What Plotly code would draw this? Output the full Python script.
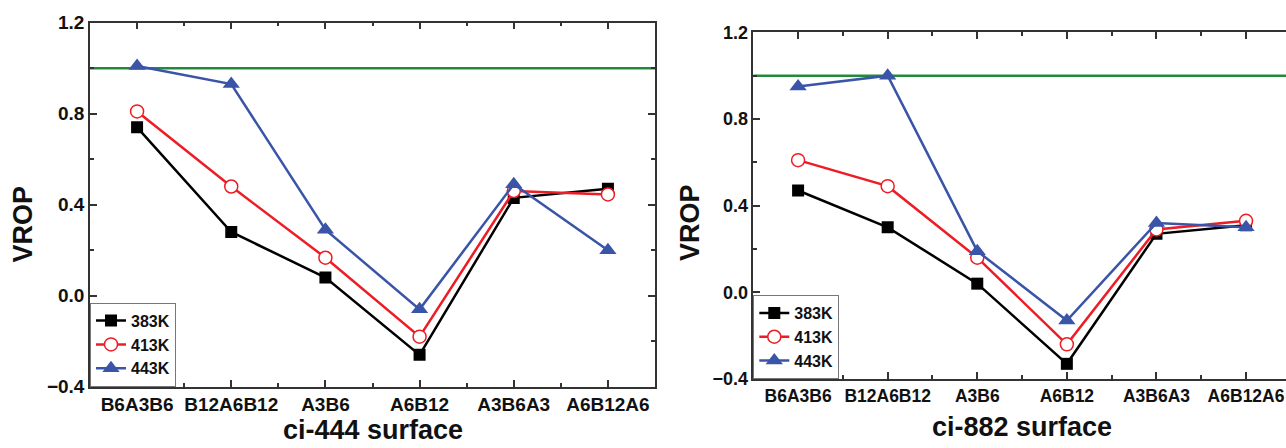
import plotly.graph_objects as go

categories = ["B6A3B6", "B12A6B12", "A3B6", "A6B12", "A3B6A3", "A6B12A6"]
series_names = ["383K", "413K", "443K"]

# ci-444 surface
left_383 = [0.74, 0.28, 0.08, -0.26, 0.43, 0.47]
left_413 = [0.81, 0.48, 0.167, -0.18, 0.46, 0.445]
left_443 = [1.01, 0.93, 0.29, -0.06, 0.49, 0.20]

# ci-882 surface
right_383 = [0.47, 0.30, 0.04, -0.33, 0.27, 0.31]
right_413 = [0.61, 0.49, 0.16, -0.24, 0.29, 0.33]
right_443 = [0.95, 1.00, 0.19, -0.13, 0.32, 0.30]

reference_level = 1.0
ref_x = [-0.5, 5.5]

colors = ["#000000", "#ee1c24", "#3a54a8"]
symbols = ["square", "circle-open", "triangle-up"]
msizes = [12, 13, 15]
green = "#23893b"

FONT = "Liberation Sans, Arial, sans-serif"
W, H = 1286, 448

fig = go.Figure()
x_idx = list(range(len(categories)))

panels = [
    ("x", "y", "legend", [left_383, left_413, left_443]),
    ("x2", "y2", "legend2", [right_383, right_413, right_443]),
]
for xa, ya, lg, data in panels:
    fig.add_trace(go.Scatter(x=ref_x, y=[reference_level] * 2, mode="lines",
                             line=dict(color=green, width=2.5), showlegend=False,
                             xaxis=xa, yaxis=ya, hoverinfo="skip"))
    for name, vals, c, s, ms in zip(series_names, data, colors, symbols, msizes):
        marker = dict(symbol=s, size=ms, color=c)
        if s == "circle-open":
            marker = dict(symbol="circle", size=ms, color="white",
                          line=dict(color=c, width=1.5))
        fig.add_trace(go.Scatter(x=x_idx, y=vals, mode="lines+markers", name=name,
                                 line=dict(color=c, width=2.5), marker=marker,
                                 xaxis=xa, yaxis=ya, legend=lg))

def px_x(p):
    return p / W

def px_y(p):
    return (H - p) / H

def tickfont(size):
    return dict(family=FONT, size=size, color="#111", weight="bold")

def xaxis(domain, rng, anchor, fs):
    return dict(domain=domain, range=rng, anchor=anchor, tickmode="array",
                tickvals=x_idx, ticktext=categories, ticks="inside", ticklen=7,
                tickwidth=1.5, tickcolor="#333", showline=True, linecolor="#333",
                linewidth=1.5, mirror="ticks", showgrid=False, zeroline=False,
                tickfont=tickfont(fs), ticklabeloverflow="allow",
                minor=dict(ticks="inside", ticklen=4, tickwidth=1.5, tickcolor="#333",
                           tick0=0.5, dtick=1, showgrid=False))

def yaxis(domain, anchor, mirror, fs):
    return dict(domain=domain, range=[-0.4, 1.2], anchor=anchor, tickmode="linear",
                tick0=-0.4, dtick=0.4, tickformat=".1f", ticks="inside", ticklen=7,
                tickwidth=1.5, tickcolor="#333", showline=True, linecolor="#333",
                linewidth=1.5, mirror=mirror, showgrid=False, zeroline=False,
                tickfont=tickfont(fs),
                minor=dict(ticks="inside", ticklen=4, tickwidth=1.5, tickcolor="#333",
                           tick0=-0.2, dtick=0.4, showgrid=False))

L_dom_x = [px_x(90), px_x(655)]
L_dom_y = [px_y(386.7), px_y(22.7)]
R_dom_x = [px_x(753.3), 1.0]
R_dom_y = [px_y(379), px_y(32.3)]

legend_font = dict(family=FONT, size=16, color="#111", weight="bold")

fig.update_layout(
    width=W, height=H, margin=dict(l=0, r=0, t=0, b=0, autoexpand=False),
    paper_bgcolor="white", plot_bgcolor="white",
    xaxis=xaxis(L_dom_x, [-0.5, 5.5], "y", 19),
    yaxis=yaxis(L_dom_y, "x", "ticks", 19),
    xaxis2=xaxis(R_dom_x, [-0.5, 5.446], "y2", 17.5),
    yaxis2=yaxis(R_dom_y, "x2", False, 18),
    legend=dict(x=L_dom_x[0], y=L_dom_y[0], xanchor="left", yanchor="bottom",
                bordercolor="#777", borderwidth=1, bgcolor="white",
                font=legend_font, tracegroupgap=0, itemwidth=30),
    legend2=dict(x=R_dom_x[0], y=R_dom_y[0], xanchor="left", yanchor="bottom",
                 bordercolor="#777", borderwidth=1, bgcolor="white",
                 font=legend_font, tracegroupgap=0, itemwidth=30),
    showlegend=True,
)

title_font = dict(family=FONT, size=27, color="#111", weight="bold")
fig.add_annotation(text="ci-444 surface", xref="paper", yref="paper",
                   x=px_x(372.5), y=px_y(447), xanchor="center", yanchor="bottom",
                   showarrow=False, font=title_font)
fig.add_annotation(text="ci-882 surface", xref="paper", yref="paper",
                   x=px_x(1021.5), y=px_y(427), xanchor="center", yanchor="middle",
                   showarrow=False, font=title_font)
fig.add_annotation(text="VROP", xref="paper", yref="paper", textangle=-90,
                   x=px_x(22.5), y=px_y(224), xanchor="center", yanchor="middle",
                   showarrow=False, font=title_font)
fig.add_annotation(text="VROP", xref="paper", yref="paper", textangle=-90,
                   x=px_x(690), y=px_y(223), xanchor="center", yanchor="middle",
                   showarrow=False, font=title_font)

fig.write_html("out.html")
